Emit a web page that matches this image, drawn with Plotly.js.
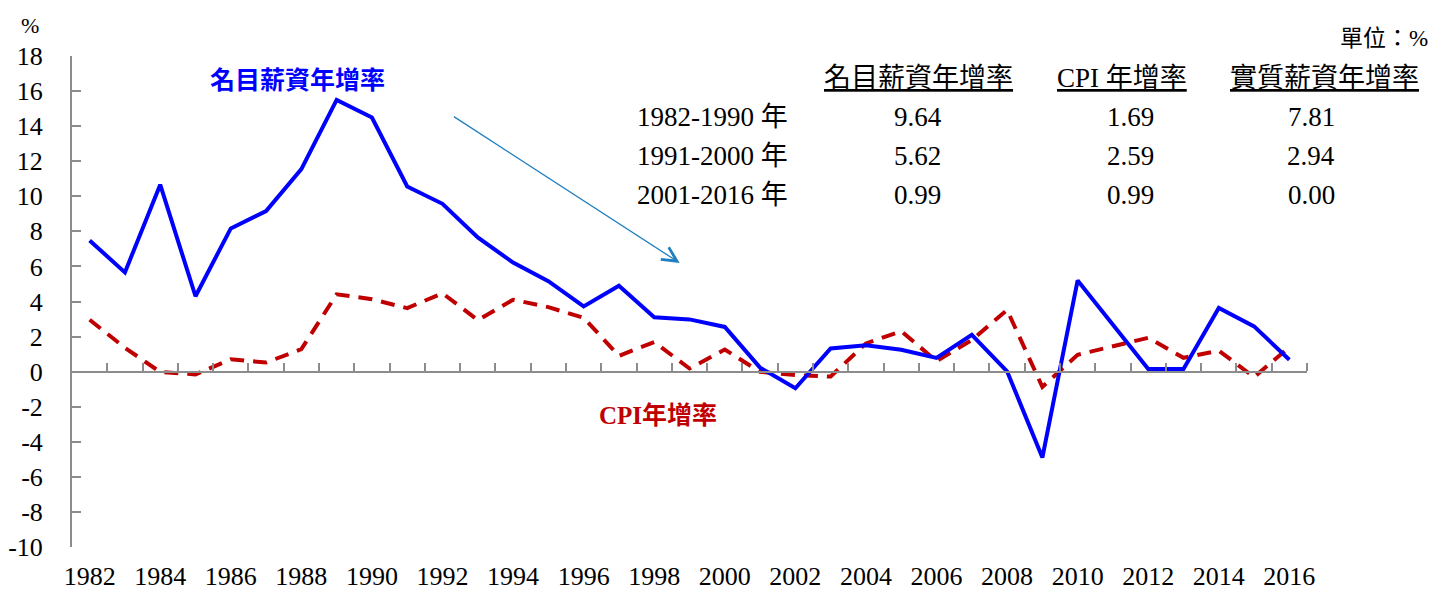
<!DOCTYPE html>
<html>
<head>
<meta charset="utf-8">
<script src="https://cdn.plot.ly/plotly-3.0.1.min.js"></script>
<style>html,body{margin:0;padding:0;background:#fff;}#chart{width:1433px;height:592px;}</style>
</head>
<body>
<div id="chart"></div>
<script>
// ---- data ----
const years = [1982,1983,1984,1985,1986,1987,1988,1989,1990,1991,1992,1993,1994,1995,1996,1997,1998,1999,2000,2001,2002,2003,2004,2005,2006,2007,2008,2009,2010,2011,2012,2013,2014,2015,2016];
const nominalWage = [7.48,5.66,10.66,4.3,8.17,9.16,11.55,15.5,14.49,10.56,9.57,7.65,6.22,5.16,3.72,4.9,3.1,2.98,2.55,0.23,-0.95,1.32,1.5,1.25,0.78,2.1,0.02,-4.9,5.2,2.7,0.15,0.15,3.63,2.58,0.68];
const cpiGrowth = [2.96,1.36,-0.02,-0.16,0.70,0.52,1.28,4.41,4.13,3.62,4.47,2.94,4.10,3.68,3.07,0.90,1.69,0.18,1.26,-0.01,-0.20,-0.28,1.61,2.31,0.60,1.80,3.52,-0.87,0.96,1.42,1.93,0.79,1.20,-0.31,1.40];
const xTickYears = [1982,1984,1986,1988,1990,1992,1994,1996,1998,2000,2002,2004,2006,2008,2010,2012,2014,2016];
const yTicks = [-10,-8,-6,-4,-2,0,2,4,6,8,10,12,14,16,18];
const tableHeaders = ['名目薪資年增率','CPI 年增率','實質薪資年增率'];
const tablePeriods = ['1982-1990 年','1991-2000 年','2001-2016 年'];
const tableNominal = ['9.64','5.62','0.99'];
const tableCpi = ['1.69','2.59','0.99'];
const tableReal = ['7.81','2.94','0.00'];
const seriesNames = ['名目薪資年增率','CPI年增率'];

// ---- layout helpers (pixel -> paper) ----
const W = 1433, H = 592;
const M = {l:72, r:125.5, t:56, b:45};
const PW = W - M.l - M.r, PH = H - M.t - M.b;
const px = x => (x - M.l) / PW;
const py = y => (H - M.b - y) / PH;

const FONT = 'Liberation Serif, "Noto Sans CJK TC", serif';
const GREY = '#8c8c8c';
const yMin = -10, yMax = 18;

const traces = [
  {x: years, y: cpiGrowth, type:'scatter', mode:'lines', name: seriesNames[1],
   line:{color:'#C00000', width:4, dash:'14px,9px'}, hoverinfo:'x+y'},
  {x: years, y: nominalWage, type:'scatter', mode:'lines', name: seriesNames[0],
   line:{color:'#0000FF', width:4}, hoverinfo:'x+y'},
  // invisible trace so the zero axis (xaxis2, boundary ticks) is drawn
  {x: [years[0]], y: [0], xaxis:'x2', type:'scatter', mode:'markers', marker:{opacity:0}, showlegend:false, hoverinfo:'skip'}
];

const boundaryTicks = years.map(v => v + 0.5);

const annotations = [];
annotations.push({xref:'paper', yref:'paper', x:px(30), y:py(25), text:'%', showarrow:false,
  font:{family:FONT, size:22, color:'#000'}, xanchor:'center', yanchor:'middle'});
annotations.push({xref:'paper', yref:'paper', x:px(1431), y:py(38), text:'單位：%', showarrow:false,
  font:{family:FONT, size:23, color:'#000'}, xanchor:'right', yanchor:'middle'});
const headerX = [919, 1122, 1325];
tableHeaders.forEach((h,i) => {
  annotations.push({xref:'paper', yref:'paper', x:px(headerX[i]), y:py(78),
    text:'<span style="text-decoration:underline">' + h + '</span>', showarrow:false,
    font:{family:FONT, size:27, color:'#000'}, xanchor:'center', yanchor:'middle'});
});
const rowY = [117, 156, 195];
const valX = [918, 1131, 1312];
tablePeriods.forEach((p,i) => {
  annotations.push({xref:'paper', yref:'paper', x:px(790), y:py(rowY[i]), text:p, showarrow:false,
    font:{family:FONT, size:27, color:'#000'}, xanchor:'right', yanchor:'middle'});
  [tableNominal[i], tableCpi[i], tableReal[i]].forEach((v,j) => {
    annotations.push({xref:'paper', yref:'paper', x:px(valX[j]), y:py(rowY[i]), text:v, showarrow:false,
      font:{family:FONT, size:27, color:'#000'}, xanchor:'center', yanchor:'middle'});
  });
});
annotations.push({xref:'x', yref:'y', x:1987.9, y:16.6, text:'<b>' + seriesNames[0] + '</b>', showarrow:false,
  font:{family:FONT, size:25, color:'#0000FF'}, xanchor:'center', yanchor:'middle'});
annotations.push({xref:'x', yref:'y', x:1998.1, y:-2.5, text:'<b>' + seriesNames[1] + '</b>', showarrow:false,
  font:{family:FONT, size:25, color:'#C00000'}, xanchor:'center', yanchor:'middle'});
annotations.push({xref:'x', yref:'y', axref:'x', ayref:'y', x:1998.72, y:6.2, ax:1992.28, ay:14.6,
  text:'', showarrow:true, arrowhead:5, arrowsize:2.2, arrowwidth:1.3, arrowcolor:'#1F7FC0'});

const layout = {
  width: W, height: H,
  margin: M,
  paper_bgcolor:'#fff', plot_bgcolor:'#fff',
  showlegend:false,
  font:{family:FONT, color:'#000', size:26},
  xaxis:{
    type:'linear', range:[years[0]-0.5, years[years.length-1]+0.5],
    tickvals: xTickYears, ticktext: xTickYears.map(String),
    ticks:'', showline:false, showgrid:false, zeroline:false,
    tickfont:{family:FONT, size:26, color:'#000'}, ticklabelstandoff:11, fixedrange:true
  },
  xaxis2:{
    overlaying:'x', matches:'x', anchor:'free', position:(0 - yMin)/(yMax - yMin), side:'top',
    range:[years[0]-0.5, years[years.length-1]+0.5],
    tickvals: boundaryTicks, ticks:'outside', ticklen:8, tickwidth:2, tickcolor:GREY,
    showticklabels:false, showline:true, linecolor:GREY, linewidth:2, showgrid:false, zeroline:false
  },
  yaxis:{
    range:[yMin, yMax], tickvals:yTicks, ticktext:yTicks.map(String),
    ticks:'inside', ticklen:9, tickwidth:2, tickcolor:GREY,
    showline:true, linecolor:GREY, linewidth:2, showgrid:false, zeroline:false,
    tickfont:{family:FONT, size:26, color:'#000'}, ticklabelstandoff:22, fixedrange:true
  },
  annotations: annotations
};

Plotly.newPlot('chart', traces, layout, {staticPlot:true, displayModeBar:false});
</script>
</body>
</html>
